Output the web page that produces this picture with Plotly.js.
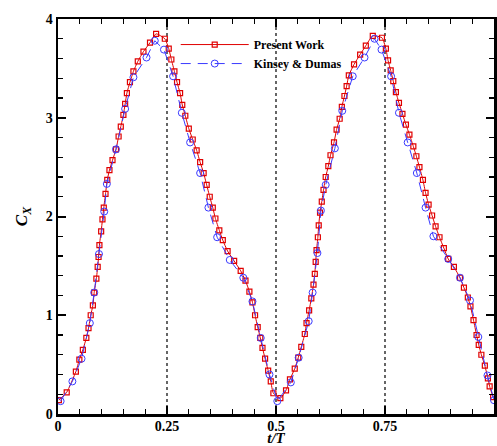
<!DOCTYPE html>
<html>
<head>
<meta charset="utf-8">
<script src="https://cdn.plot.ly/plotly-3.0.1.min.js"></script>
<style>html,body{margin:0;padding:0;background:#fff;}#chart{width:497px;height:446px;}</style>
</head>
<body>
<div id="chart"></div>
<script>
// Present Work (red squares)
const presentT = [0.002,0.020,0.041,0.049,0.057,0.065,0.070,0.075,0.080,0.083,0.088,0.091,0.093,0.095,0.099,0.102,0.105,0.109,0.113,0.118,0.125,0.133,0.139,0.144,0.150,0.154,0.158,0.165,0.173,0.183,0.196,0.211,0.225,0.245,0.254,0.260,0.267,0.273,0.280,0.285,0.292,0.300,0.309,0.318,0.326,0.334,0.341,0.348,0.355,0.361,0.370,0.378,0.389,0.404,0.419,0.430,0.439,0.446,0.452,0.458,0.464,0.469,0.475,0.482,0.488,0.494,0.510,0.523,0.532,0.543,0.551,0.558,0.566,0.570,0.576,0.581,0.586,0.589,0.591,0.593,0.596,0.598,0.601,0.605,0.609,0.614,0.620,0.625,0.633,0.639,0.646,0.651,0.657,0.662,0.667,0.679,0.693,0.706,0.722,0.743,0.752,0.757,0.763,0.769,0.775,0.782,0.790,0.798,0.806,0.815,0.822,0.829,0.837,0.843,0.850,0.858,0.866,0.875,0.885,0.895,0.908,0.922,0.931,0.940,0.946,0.953,0.960,0.965,0.971,0.979,0.986,0.990,0.998];
const presentC = [0.14,0.22,0.43,0.55,0.65,0.77,0.87,1.00,1.10,1.23,1.37,1.49,1.59,1.71,1.85,1.97,2.09,2.23,2.37,2.47,2.57,2.68,2.81,2.91,3.03,3.14,3.25,3.36,3.47,3.57,3.67,3.76,3.85,3.80,3.70,3.59,3.47,3.36,3.25,3.13,3.02,2.89,2.78,2.67,2.55,2.44,2.32,2.20,2.09,1.98,1.86,1.76,1.65,1.55,1.45,1.35,1.24,1.13,1.00,0.88,0.77,0.67,0.56,0.44,0.33,0.21,0.16,0.24,0.35,0.46,0.57,0.68,0.81,0.92,1.05,1.17,1.31,1.42,1.54,1.66,1.79,1.91,2.04,2.15,2.27,2.40,2.51,2.62,2.75,2.88,2.99,3.11,3.22,3.32,3.43,3.54,3.64,3.73,3.83,3.81,3.70,3.58,3.48,3.37,3.26,3.15,3.04,2.93,2.83,2.71,2.61,2.50,2.37,2.24,2.12,2.01,1.90,1.79,1.68,1.57,1.49,1.38,1.28,1.18,1.09,0.95,0.80,0.70,0.60,0.49,0.36,0.28,0.17];

// Kinsey & Dumas (blue circles)
const kdT = [0.006,0.033,0.054,0.073,0.083,0.094,0.106,0.112,0.133,0.154,0.173,0.203,0.222,0.243,0.264,0.284,0.303,0.326,0.345,0.365,0.394,0.425,0.446,0.465,0.485,0.503,0.534,0.552,0.575,0.584,0.595,0.603,0.614,0.635,0.652,0.676,0.703,0.726,0.742,0.764,0.782,0.802,0.823,0.843,0.861,0.895,0.922,0.945,0.964,0.985,1.000];
const kdC = [0.13,0.33,0.56,0.92,1.23,1.62,2.05,2.33,2.68,3.09,3.41,3.61,3.78,3.69,3.42,3.05,2.75,2.44,2.09,1.79,1.56,1.38,1.14,0.77,0.40,0.13,0.32,0.57,0.94,1.23,1.63,2.06,2.32,2.69,3.07,3.42,3.61,3.80,3.69,3.42,3.05,2.75,2.44,2.09,1.80,1.57,1.38,1.15,0.78,0.39,0.14];

const xTicks = [0, 0.25, 0.5, 0.75, 1];
const xTickText = ['0', '0.25', '0.5', '0.75', '1'];
const yTicks = [0, 1, 2, 3, 4];
const refLines = [0.25, 0.5, 0.75];

const serif = 'Liberation Serif, Times New Roman, serif';

const traces = [
  {
    x: presentT, y: presentC, type: 'scatter', mode: 'lines+markers',
    name: '<b>Present Work</b>',
    line: {color: '#e00000', width: 1, shape: 'spline', smoothing: 0.5},
    marker: {symbol: 'square-open', size: 5, color: '#e00000', line: {width: 1.2}}
  },
  {
    x: kdT, y: kdC, type: 'scatter', mode: 'lines+markers',
    name: '<b>Kinsey &amp; Dumas</b>',
    line: {color: '#3a3aff', width: 1, dash: '10px,7px'},
    marker: {symbol: 'circle-open', size: 7, color: '#3a3aff', line: {width: 1}}
  }
];

const axisCommon = {
  showgrid: false, zeroline: false,
  showline: true, linecolor: '#000', linewidth: 2.5, mirror: 'ticks',
  ticks: 'inside', ticklen: 8, tickwidth: 2, tickcolor: '#000',
  tickfont: {family: serif, size: 14, color: '#000', weight: 'bold'}
};

const layout = {
  width: 497, height: 446,
  margin: {l: 58, r: 3, t: 19, b: 32},
  paper_bgcolor: '#fff', plot_bgcolor: '#fff',
  showlegend: true,
  legend: {
    x: 0.27, y: 0.972, xanchor: 'left', yanchor: 'top',
    bgcolor: 'rgba(0,0,0,0)', borderwidth: 0,
    itemwidth: 68,
    font: {family: serif, size: 12, color: '#000'}
  },
  xaxis: Object.assign({}, axisCommon, {
    range: [0, 1], tickvals: xTicks, ticktext: xTickText,
    ticklabelstandoff: -2,
    minor: {dtick: 0.05, ticks: 'inside', ticklen: 5, tickwidth: 1.2, tickcolor: '#000'},
    title: {text: '<b><i>t/T</i></b>', font: {family: serif, size: 15, color: '#000'}, standoff: 7}
  }),
  yaxis: Object.assign({}, axisCommon, {
    range: [0, 4], tickvals: yTicks,
    minor: {dtick: 0.2, ticks: 'inside', ticklen: 5, tickwidth: 1.2, tickcolor: '#000'},
    title: {text: '<b><i>C<sub>X</sub></i></b>', font: {family: serif, size: 17, color: '#000'}, standoff: 14}
  }),
  shapes: refLines.map(v => ({
    type: 'line', xref: 'x', yref: 'paper', x0: v, x1: v, y0: 0, y1: 1,
    line: {color: '#000', width: 1.2, dash: 'dot'}, layer: 'below'
  }))
};

Plotly.newPlot('chart', traces, layout, {displayModeBar: false, staticPlot: true});
</script>
</body>
</html>
